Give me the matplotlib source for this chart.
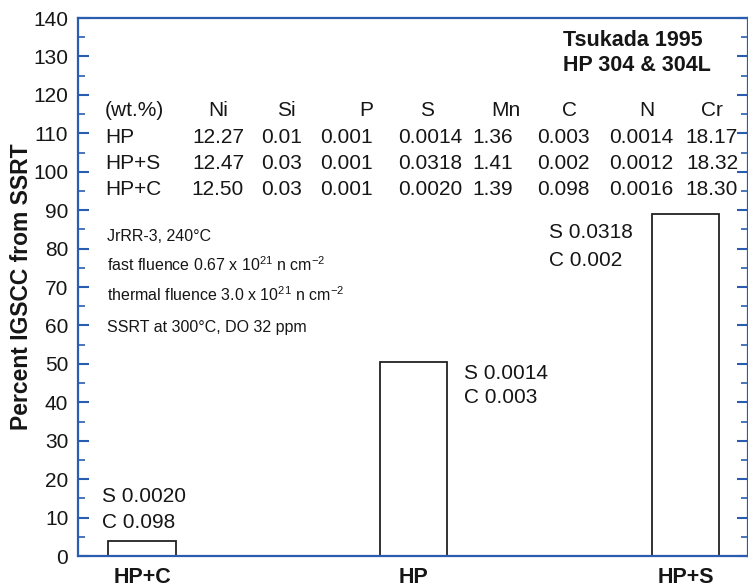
import matplotlib.pyplot as plt
from matplotlib.ticker import MultipleLocator

plt.rcParams['font.family'] = ['Liberation Sans', 'DejaVu Sans']
plt.rcParams['mathtext.fontset'] = 'custom'
plt.rcParams['mathtext.rm'] = 'Liberation Sans'
plt.rcParams['mathtext.it'] = 'Liberation Sans:italic'
plt.rcParams['mathtext.bf'] = 'Liberation Sans:bold'

# ---------- data ----------
alloys = ["HP+C", "HP", "HP+S"]
igscc = [4, 50.5, 89]
bar_s = ["0.0020", "0.0014", "0.0318"]
bar_c = ["0.098", "0.003", "0.002"]

elements = ["Ni", "Si", "P", "S", "Mn", "C", "N", "Cr"]
table_rows = ["HP", "HP+S", "HP+C"]
comp_hp = ["12.27", "0.01", "0.001", "0.0014", "1.36", "0.003", "0.0014", "18.17"]
comp_hps = ["12.47", "0.03", "0.001", "0.0318", "1.41", "0.002", "0.0012", "18.32"]
comp_hpc = ["12.50", "0.03", "0.001", "0.0020", "1.39", "0.098", "0.0016", "18.30"]

notes = [
    "JrRR-3, 240°C",
    r"fast fluence 0.67 x 10$^{21}$ n cm$^{-2}$",
    r"thermal fluence 3.0 x 10$^{21}$ n cm$^{-2}$",
    "SSRT at 300°C, DO 32 ppm",
]
title_lines = ["Tsukada 1995", "HP 304 & 304L"]

# ---------- layout (axes fractions) ----------
blue = "#2a5db0"
ink = "#161616"
col_right = [0.2478, 0.3343, 0.4403, 0.5731, 0.6493, 0.7642, 0.8881, 0.9851]
col_head = [0.209, 0.3104, 0.4299, 0.5209, 0.6388, 0.7343, 0.8493, 0.9463]
row_y = [0.777, 0.730, 0.682]
head_y = 0.829
note_y = [0.593, 0.541, 0.485, 0.424]
lbl_x = [0.0358, 0.5761, 0.703]
lbl_y = [(0.1115, 0.0632), (0.340, 0.2955), (0.6004, 0.5502)]

# ---------- plot ----------
fig = plt.figure(figsize=(7.48, 5.87), dpi=100)
ax = fig.add_axes([0.1043, 0.0528, 0.8957, 0.9165])

ax.bar(range(len(alloys)), igscc, width=0.247, color="white",
       edgecolor="#222222", linewidth=1.3, zorder=2)

ax.set_xlim(-0.2357, 2.2305)
ax.set_ylim(0, 140)
ax.yaxis.set_major_locator(MultipleLocator(10))
ax.yaxis.set_minor_locator(MultipleLocator(5))

ax.set_xticks(range(len(alloys)))
ax.set_xticklabels(alloys, fontsize=15.5, fontweight="bold", color=ink)
ax.tick_params(axis="x", length=0, pad=8)
ax.tick_params(axis="y", which="both", direction="in", left=True, right=True,
               color=blue, labelsize=15, labelcolor=ink, pad=7)
ax.tick_params(axis="y", which="major", length=8, width=1.5)
ax.tick_params(axis="y", which="minor", length=5, width=1.2)

for sp in ax.spines.values():
    sp.set_color(blue)
    sp.set_linewidth(1.6)

ax.set_ylabel("Percent IGSCC from SSRT", fontsize=16.5, fontweight="bold",
              color=ink, labelpad=0)

# composition table
tsize = 15
ax.text(0.0403, head_y, "(wt.%)", transform=ax.transAxes, fontsize=tsize,
        color=ink, va="center", ha="left")
for name, x in zip(elements, col_head):
    ax.text(x, head_y, name, transform=ax.transAxes, fontsize=tsize,
            color=ink, va="center", ha="center")
for rname, vals, y in zip(table_rows, [comp_hp, comp_hps, comp_hpc], row_y):
    ax.text(0.0403, y, rname, transform=ax.transAxes, fontsize=tsize,
            color=ink, va="center", ha="left")
    for v, x in zip(vals, col_right):
        ax.text(x, y, v, transform=ax.transAxes, fontsize=tsize,
                color=ink, va="center", ha="right")

# irradiation notes
for txt, y in zip(notes, note_y):
    ax.text(0.0433, y, txt, transform=ax.transAxes, fontsize=11.5,
            color=ink, va="center", ha="left")

# title block
ax.text(0.7239, 0.959, title_lines[0], transform=ax.transAxes, fontsize=15.5,
        fontweight="bold", color=ink, va="center", ha="left")
ax.text(0.7239, 0.9126, title_lines[1], transform=ax.transAxes, fontsize=15.5,
        fontweight="bold", color=ink, va="center", ha="left")

# labels next to bars
for s, c, x, (ys, yc) in zip(bar_s, bar_c, lbl_x, lbl_y):
    ax.text(x, ys, f"S {s}", transform=ax.transAxes, fontsize=15,
            color=ink, va="center", ha="left")
    ax.text(x, yc, f"C {c}", transform=ax.transAxes, fontsize=15,
            color=ink, va="center", ha="left")

fig.savefig("out.png", dpi=100)
